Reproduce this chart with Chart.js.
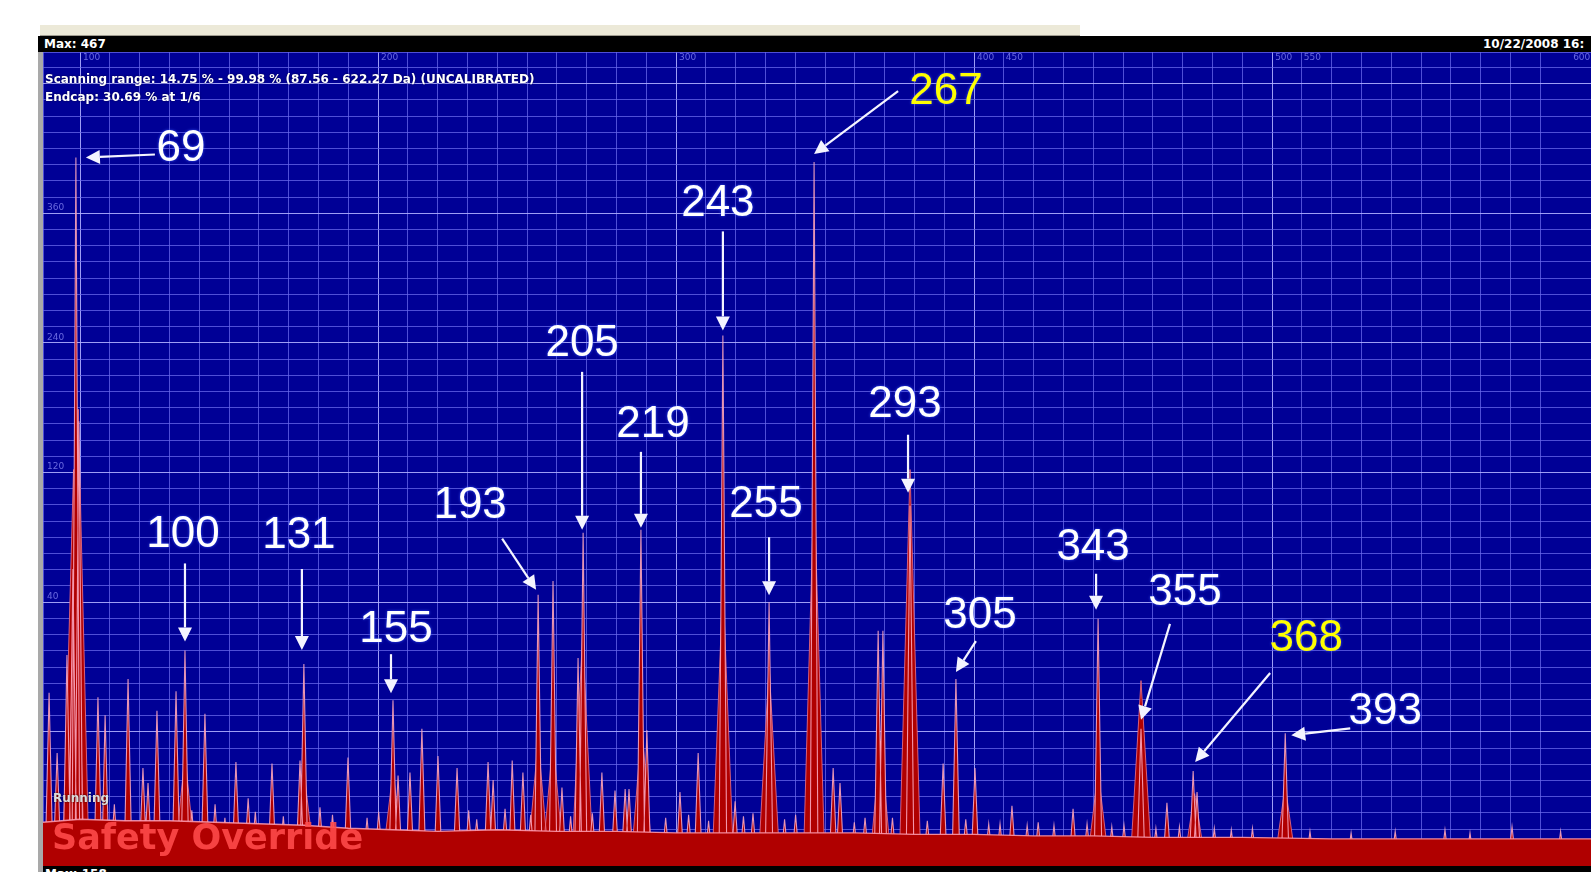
<!DOCTYPE html>
<html>
<head>
<meta charset="utf-8">
<title>Ion trap spectrum</title>
<script src="https://cdn.jsdelivr.net/npm/chart.js@4.4.1/dist/chart.umd.min.js"></script>
<style>
  html, body { margin: 0; padding: 0; background: #fff; width: 1591px; height: 872px; overflow: hidden; }
  .abs { position: absolute; }
  #toolbar { left: 40px; top: 25px; width: 1040px; height: 10px; background: #ece9d8; border-bottom: 1px solid #a09c90; }
  #bar { left: 38px; top: 36px; width: 1553px; height: 16px; background: #000; color: #fff; font: bold 12px "DejaVu Sans"; line-height: 16px; white-space: nowrap; overflow: hidden; }
  #bar .max { position: absolute; left: 6px; top: 0; }
  #bar .date { position: absolute; left: 1445px; top: 0; }
  #frame { left: 38px; top: 52px; width: 5px; height: 820px; background: #a9a9a9; }
  #plot { left: 43px; top: 52px; width: 1548px; height: 814px; background: #000096; }
  #plot .info { position: absolute; left: 2px; color: #fff; font: bold 12px "DejaVu Sans"; white-space: nowrap; text-shadow: 0 0 2px #000040; }
  #bottom { left: 43px; top: 866px; width: 1548px; height: 6px; background: #000; overflow: hidden; color: #fff; font: bold 12px "DejaVu Sans"; }
</style>
</head>
<body>
<div id="toolbar" class="abs"></div>
<div id="bar" class="abs"><span class="max">Max: 467</span><span class="date">10/22/2008 16:</span></div>
<div id="frame" class="abs"></div>
<div id="plot" class="abs">
  <canvas id="spectrum"></canvas>
  <div class="info" style="top:20px">Scanning range: 14.75 % - 99.98 % (87.56 - 622.27 Da) (UNCALIBRATED)</div>
  <div class="info" style="top:38px">Endcap: 30.69 % at 1/6</div>
</div>
<div id="bottom" class="abs"><div style="padding:1px 0 0 2px">Max: 158</div></div>
<script>
// x = position on the instrument axis (Da, uncalibrated), y = intensity (counts)
const calloutText = ['69', '100', '131', '155', '193', '205', '219', '243', '255', '267', '293', '305', '343', '355', '368', '393'];
const calloutPos = [98.6, 135.2, 175.1, 205.0, 253.7, 268.8, 288.2, 315.7, 331.2, 346.3, 378.5, 393.9, 441.6, 456.0, 473.5, 504.4];
const calloutHeight = [467, 140, 131, 107, 177, 218, 220, 349, 172, 464, 236, 121, 161, 88, 60, 85];

const minorPos = [89.6, 92.3, 95.6, 97.6, 99.6, 106.0, 108.4, 116.1, 121.1, 122.8, 125.8, 132.2, 141.9, 145.3, 148.6,
  152.3, 156.4, 164.4, 173.8, 189.9, 206.7, 210.7, 214.7, 220.1, 226.5, 236.9, 238.6, 242.6, 245.0, 248.6,
  258.7, 261.7, 267.1, 275.1, 279.5, 282.9, 284.2, 290.2, 301.3, 307.4, 319.8, 325.8, 352.7, 355.0, 363.4,
  367.8, 369.4, 389.6, 400.3, 408.7, 412.7, 417.8, 433.2, 464.7, 474.8, 558.0, 580.5,
  // small noise bumps on the floor
  111.5, 137.5, 158.8, 168.2, 180.5, 184.7, 196.3, 200.2, 230.4, 233.1, 251.2, 264.6, 271.9, 296.5, 304.2,
  310.9, 322.6, 336.4, 340.1, 359.8, 372.6, 384.3, 397.2, 404.9, 421.5, 426.8, 437.9, 446.2, 450.3, 461.0,
  468.9, 480.6, 486.3, 493.4, 512.7, 526.5, 541.3, 566.4, 596.8];
const minorHeight = [112, 72, 137, 194, 292, 109, 97, 121, 62, 52, 100, 113, 98, 38, 29,
  66, 42, 65, 67, 69, 57, 59, 88, 70, 62, 66, 54, 35, 67, 59,
  186, 49, 135, 59, 47, 48, 48, 87, 46, 72, 40, 32, 62, 52, 29,
  153, 153, 65, 62, 25, 37, 24, 35, 39, 46, 21, 23,
  38, 34, 33, 30, 36, 31, 29, 33, 34, 28, 31, 30, 32, 29, 31,
  27, 30, 28, 31, 26, 29, 27, 28, 25, 26, 24, 25, 23, 24, 22,
  23, 22, 21, 22, 20, 19, 20, 19, 20];

const broadPos = [97.8, 99.4, 135.2, 175.1, 205.0, 253.7, 258.7, 268.6, 288.5, 315.7, 331.2, 346.3, 368.6, 378.5, 441.6, 456.0, 474.0, 504.4];
const broadHeight = [260, 300, 70, 60, 60, 80, 80, 150, 90, 185, 130, 250, 80, 260, 60, 120, 45, 50];

const floorPos = [87.56, 100, 115, 130, 145, 160, 175, 190, 205, 220, 240, 260, 280, 300, 320, 340, 360, 380, 400, 420, 440, 460, 490, 520, 550, 580, 607];
const floorLevel = [26, 28, 27, 27, 26, 25, 24, 22, 21, 20, 21, 20, 20, 19, 19, 19, 19, 18, 18, 17, 17, 16, 16, 15, 15, 15, 15];

const topTickValues = [100, 200, 300, 400, 500, 600];
const topTickLabels = ['100', '200', '300', '400    450', '500    550', '600'];
const yLabelValues = [172, 258, 344, 430];
const yLabelText = ['40', '120', '240', '360'];

// label centre and arrow (start, tip) offsets in px from each annotated peak top
const calloutLayout = [
  [105, -12, 79, -3, 10, 0],
  [-2, -119, 0, -87, 0, -9],
  [-5, -132, -2, -95, -2, -14],
  [3, -74, -2, -46, -2, -7],
  [-68, -92, -36, -56, -2, -5],
  [-1, -193, -1, -161, -1, -3],
  [12, -109, 0, -78, 0, -2],
  [-5, -135, 0, -104, 0, -5],
  [-3, -101, 0, -65, 0, -7],
  [132, -74, 84, -71, 0, -8],
  [-5, -104, -2, -71, -2, -13],
  [24, -67, 20, -38, 0, -7],
  [-5, -75, -2, -45, -2, -9],
  [44, -140, 29, -105, 0, -9],
  [113, -136, 77, -98, 2, -9],
  [100, -25, 65, -5, 6, 2]
];
const yellowCallouts = ['267', '368'];

const RED = '#b00000';

function spikes(pos, height, halfWidth) {
  const idx = pos.map((p, i) => i).sort((a, b) => pos[a] - pos[b]);
  const pts = [];
  idx.forEach(i => {
    pts.push({x: pos[i] - halfWidth, y: 0});
    pts.push({x: pos[i], y: height[i]});
    pts.push({x: pos[i] + halfWidth, y: 0});
  });
  return pts;
}

const floorData = floorPos.map((p, i) => ({x: p, y: floorLevel[i]}));
const sharpData = spikes(calloutPos.concat(minorPos), calloutHeight.concat(minorHeight), 1.3);
const broadData = spikes(broadPos, broadHeight, 3.6);

const drawArrow = (ctx, x1, y1, x2, y2) => {
  const ang = Math.atan2(y2 - y1, x2 - x1);
  const len = 14, half = 7;
  const bx = x2 - len * Math.cos(ang), by = y2 - len * Math.sin(ang);
  ctx.beginPath();
  ctx.moveTo(x1, y1);
  ctx.lineTo(bx, by);
  ctx.stroke();
  ctx.beginPath();
  ctx.moveTo(x2, y2);
  ctx.lineTo(bx + half * Math.sin(ang), by - half * Math.cos(ang));
  ctx.lineTo(bx - half * Math.sin(ang), by + half * Math.cos(ang));
  ctx.closePath();
  ctx.fill();
};

const overlay = {
  id: 'overlay',
  beforeDatasetsDraw(chart) {
    const {ctx, chartArea, scales: {x, y}} = chart;
    ctx.save();
    ctx.fillStyle = 'rgba(150,150,255,0.7)';
    ctx.font = '9px "DejaVu Sans"';
    ctx.textBaseline = 'top';
    topTickValues.forEach((v, i) => {
      ctx.fillText(topTickLabels[i], x.getPixelForValue(v) + 3, chartArea.top + 1);
    });
    ctx.textBaseline = 'bottom';
    yLabelValues.forEach((v, i) => {
      ctx.fillText(yLabelText[i], chartArea.left + 4, y.getPixelForValue(v) - 1);
    });
    ctx.restore();
  },
  afterDatasetsDraw(chart) {
    const {ctx, chartArea, scales: {x, y}} = chart;
    ctx.save();
    // status texts
    ctx.textBaseline = 'alphabetic';
    ctx.font = 'bold 35px "DejaVu Sans"';
    ctx.fillStyle = 'rgba(255,75,75,0.88)';
    ctx.fillText('Safety Override', chartArea.left + 9, chartArea.top + 797);
    ctx.font = 'bold 12px "DejaVu Sans"';
    ctx.shadowColor = 'rgba(0,0,0,0.8)';
    ctx.shadowBlur = 2;
    ctx.fillStyle = '#dcdcdc';
    ctx.fillText('Running', chartArea.left + 10, chartArea.top + 750);

    // callouts
    ctx.font = '44px "Liberation Sans", Arial, sans-serif';
    ctx.textAlign = 'center';
    ctx.lineWidth = 2.2;
    calloutText.forEach((t, i) => {
      const px = x.getPixelForValue(calloutPos[i]);
      const py = y.getPixelForValue(calloutHeight[i]);
      const [dx, dy, sx, sy, tx, ty] = calloutLayout[i];
      const col = yellowCallouts.includes(t) ? '#ffff00' : '#ffffff';
      ctx.shadowColor = 'rgba(60,90,255,0.9)';
      ctx.shadowBlur = 3;
      ctx.fillStyle = col;
      ctx.fillText(t, px + dx, py + dy + 0.358 * 44);
      ctx.shadowColor = 'rgba(0,0,0,0)';
      ctx.strokeStyle = '#f4f4ff';
      ctx.fillStyle = '#f4f4ff';
      drawArrow(ctx, px + sx, py + sy, px + tx, py + ty);
    });
    ctx.restore();
  }
};

new Chart(document.getElementById('spectrum'), {
  type: 'line',
  data: {
    datasets: [
      {data: floorData, fill: 'start', backgroundColor: RED, borderColor: 'rgba(255,160,180,0.85)', borderWidth: 1.4},
      {data: sharpData, fill: 'start', backgroundColor: RED, borderColor: 'rgba(255,175,200,0.85)', borderWidth: 1.1},
      {data: broadData, fill: 'start', backgroundColor: RED, borderColor: 'rgba(235,110,130,0.85)', borderWidth: 1}
    ]
  },
  options: {
    responsive: true,
    maintainAspectRatio: false,
    animation: false,
    events: [],
    layout: {padding: 0, autoPadding: false},
    elements: {point: {radius: 0}, line: {tension: 0}},
    plugins: {legend: {display: false}, tooltip: {enabled: false}},
    scales: {
      x: {
        type: 'linear', min: 87.56, max: 607,
        ticks: {display: false, stepSize: 10},
        border: {display: false},
        grid: {
          drawTicks: false,
          color: (c) => (c.tick && Math.abs(c.tick.value / 100 - Math.round(c.tick.value / 100)) < 0.001)
            ? 'rgba(175,175,255,0.9)' : 'rgba(105,105,235,0.75)'
        }
      },
      y: {
        type: 'linear', min: -3, max: 537,
        ticks: {display: false, stepSize: 10.75},
        border: {display: false},
        grid: {
          drawTicks: false,
          color: (c) => (c.tick && c.tick.value > 1 && Math.round(c.tick.value / 10.75) % 8 === 0)
            ? 'rgba(175,175,255,0.9)' : 'rgba(105,105,235,0.75)'
        }
      }
    }
  },
  plugins: [overlay]
});
</script>
</body>
</html>
